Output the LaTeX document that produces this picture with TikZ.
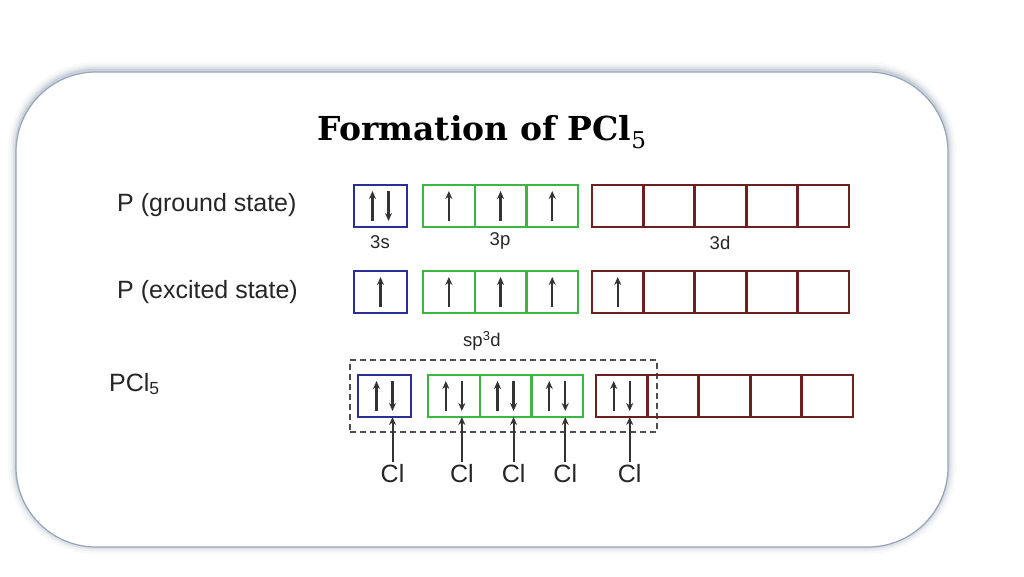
\documentclass[tikz,border=0pt]{standalone}
\usepackage{fontspec}
\setsansfont{Liberation Sans}
\newfontfamily\titlefont{DejaVu Serif}
\usepackage{tikz}
\usetikzlibrary{arrows.meta}

\definecolor{sblue}{HTML}{2B2F95}
\definecolor{pgreen}{HTML}{3DB543}
\definecolor{dbrown}{HTML}{6E1F1F}
\definecolor{spingray}{HTML}{333333}
\definecolor{shadowc}{HTML}{6A7C98}
\definecolor{framec}{HTML}{98A4B8}

\tikzset{
  orb/.style={draw, line width=2.4pt, minimum width=51.7pt, minimum height=42pt, inner sep=0pt, outer sep=0pt},
  sorb/.style={orb, draw=sblue, minimum width=53pt},
  porb/.style={orb, draw=pgreen},
  dorb/.style={orb, draw=dbrown},
  spin/.style={draw=spingray, line width=2.2pt, -{Stealth[length=8pt,width=7pt]}},
  clarrow/.style={draw=spingray, line width=2pt, -{Stealth[length=8pt,width=7pt]}},
  lbl/.style={font=\sffamily\fontsize{25}{29}\selectfont, text=black!85, inner sep=2pt},
  sublbl/.style={font=\sffamily\fontsize{18.5}{22}\selectfont, text=black!85, inner sep=1pt},
  hybbox/.style={draw=black!70, dash pattern=on 6pt off 4pt, line width=1.3pt, minimum width=307pt, minimum height=72pt, inner sep=0pt}
}

\newcommand{\spinup}[2]{\draw[spin] ([shift={(#2,15)}]#1.center) -- ([shift={(#2,-15)}]#1.center);}
\newcommand{\spindown}[2]{\draw[spin] ([shift={(#2,-15)}]#1.center) -- ([shift={(#2,15)}]#1.center);}

\begin{document}
\begin{tikzpicture}[x=1pt,y=-1pt]
\useasboundingbox (0,0) rectangle (1024,576);
\fill[white] (0,0) rectangle (1024,576);

% card with soft shadow
\foreach \w/\o in {16/0.04, 11/0.07, 7/0.1, 3/0.18}
  \draw[shadowc, line width=\w pt, opacity=\o, rounded corners=80pt] (16,70) rectangle (948,546);
\draw[fill=white, draw=framec, line width=1.2pt, rounded corners=80pt] (16,72) rectangle (948,547);

% title
\node (title) at (482,132) {\titlefont\bfseries\fontsize{33}{37}\selectfont Formation of PCl\textsubscript{\mdseries 5}};

% row labels
\node[lbl, anchor=west] (gnd) at (115,205) {P (ground state)};
\node[lbl, anchor=west] (exc) at (115,292) {P (excited state)};
\node[lbl, anchor=west] (pcl) at (107,384) {PCl\textsubscript{5}};

% ground state
\node[sorb] (g3s) at (380.5,206) {};
\foreach \i in {1,2,3}
  \node[porb] (g3p\i) at ({423+51.7*(\i-0.5)},206) {};
\foreach \i in {1,...,5}
  \node[dorb] (g3d\i) at ({592+51.4*(\i-0.5)},206) {};
\spinup{g3s}{-8}
\spindown{g3s}{8}
\foreach \i in {1,2,3} {\spinup{g3p\i}{0}}

\node[sublbl] (l3s) at (380,242) {3s};
\node[sublbl] (l3p) at (500,241) {3p};
\node[sublbl] (l3d) at (720,243) {3d};

% excited state
\node[sorb] (e3s) at (380.5,292) {};
\foreach \i in {1,2,3}
  \node[porb] (e3p\i) at ({423+51.7*(\i-0.5)},292) {};
\foreach \i in {1,...,5}
  \node[dorb] (e3d\i) at ({592+51.4*(\i-0.5)},292) {};
\spinup{e3s}{0}
\foreach \i in {1,2,3} {\spinup{e3p\i}{0}}
\spinup{e3d1}{0}

\node[sublbl] (lhyb) at (482,341) {sp\textsuperscript{3}d};

% PCl5
\node[hybbox] (hyb) at (503.5,396) {};
\node[sorb] (h3s) at (384.5,396) {};
\foreach \i in {1,2,3}
  \node[porb] (h3p\i) at ({428+51.7*(\i-0.5)},396) {};
\foreach \i in {1,...,5}
  \node[dorb] (h3d\i) at ({596+51.4*(\i-0.5)},396) {};
\foreach \b in {h3s,h3p1,h3p2,h3p3,h3d1} {
  \spinup{\b}{-8}
  \spindown{\b}{8}
}

% chlorine atoms
\foreach \b [count=\k] in {h3s,h3p1,h3p2,h3p3,h3d1} {
  \node[lbl, anchor=north] (cl\k) at ([shift={(8,45)}]\b.south) {Cl};
  \draw[clarrow] (cl\k.north) -- (cl\k.north |- \b.south);
}
\end{tikzpicture}
\end{document}
